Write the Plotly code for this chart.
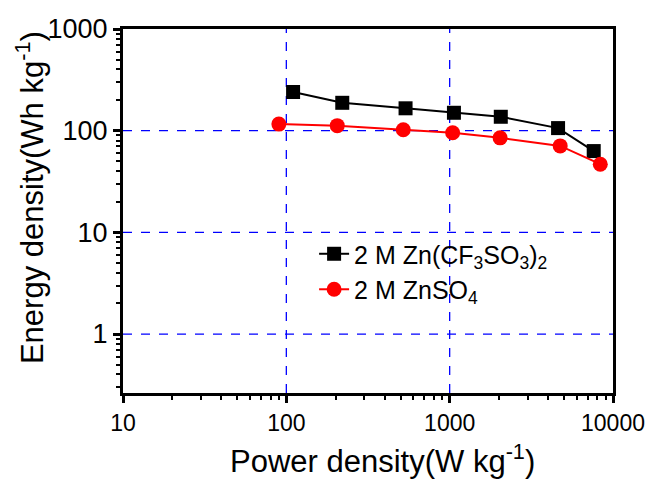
import plotly.graph_objects as go

# Ragone data: power density (W/kg) vs energy density (Wh/kg)
power_cf3so3 = [110, 220, 537, 1062, 2056, 4610, 7620]
energy_cf3so3 = [240, 188, 166, 150, 137, 106, 63]

power_znso4 = [90, 205, 520, 1043, 2036, 4750, 8360]
energy_znso4 = [116, 112, 102, 95.5, 85, 70.8, 46.8]

name_cf3so3 = "2 M Zn(CF<sub>3</sub>SO<sub>3</sub>)<sub>2</sub>"
name_znso4 = "2 M ZnSO<sub>4</sub>"

x_ticks = [10, 100, 1000, 10000]
y_ticks = [1, 10, 100, 1000]
x_grid = [100, 1000]
y_grid = [1, 10, 100]

FONT = "Liberation Sans, Arial, sans-serif"
GRID = "#0000FF"


def minor_vals(decades):
    return [m * 10 ** d for d in decades for m in range(2, 10)]


fig = go.Figure()
fig.add_trace(go.Scatter(
    x=power_cf3so3, y=energy_cf3so3, name=name_cf3so3,
    mode="lines+markers",
    line=dict(color="black", width=2),
    marker=dict(symbol="square", size=14, color="black"),
))
fig.add_trace(go.Scatter(
    x=power_znso4, y=energy_znso4, name=name_znso4,
    mode="lines+markers",
    line=dict(color="red", width=2),
    marker=dict(symbol="circle", size=15, color="red"),
))

# dashed blue grid at the interior decades
for gx in x_grid:
    fig.add_shape(type="line", xref="x", yref="paper", x0=gx, x1=gx,
                  y0=0, y1=1, layer="below",
                  line=dict(color=GRID, width=1.3, dash="dash"))
for gy in y_grid:
    fig.add_shape(type="line", xref="paper", yref="y", x0=0, x1=1,
                  y0=gy, y1=gy, layer="below",
                  line=dict(color=GRID, width=1.3, dash="dash"))


def log_axis(rng, vals, minors, label_size):
    return dict(
        type="log", range=rng,
        tickvals=vals, ticktext=[str(v) for v in vals],
        showline=True, linecolor="black", linewidth=3, mirror=True,
        ticks="outside", ticklen=7, tickwidth=3, tickcolor="black",
        showgrid=False, zeroline=False,
        tickfont=dict(family=FONT, size=label_size, color="black"),
        minor=dict(tickvals=minors, ticks="outside", ticklen=4, tickwidth=2,
                   tickcolor="black", showgrid=False),
    )


fig.update_layout(
    width=657, height=479,
    margin=dict(l=123, r=44, t=29, b=86),
    paper_bgcolor="white", plot_bgcolor="white",
    font=dict(family=FONT, color="black"),
    xaxis=log_axis([1, 4.0], x_ticks, minor_vals([1, 2, 3]), 23),
    yaxis=log_axis([-0.58, 3.0], y_ticks, minor_vals([-1, 0, 1, 2]), 27),
    showlegend=True,
    legend=dict(
        x=0.39, y=0.445, xanchor="left", yanchor="top",
        bgcolor="rgba(0,0,0,0)", borderwidth=0,
        font=dict(family=FONT, size=25, color="black"),
        tracegroupgap=0,
    ),
    annotations=[
        dict(text="Power density(W kg<sup>-1</sup>)",
             xref="paper", yref="paper", x=0.529, y=-0.18,
             xanchor="center", yanchor="middle", showarrow=False,
             font=dict(family=FONT, size=31, color="black")),
        dict(text="Energy density(Wh kg<sup>-1</sup>)",
             xref="paper", yref="paper", x=-0.19, y=0.538,
             xanchor="center", yanchor="middle", showarrow=False,
             textangle=-90,
             font=dict(family=FONT, size=31, color="black")),
    ],
)

fig.write_html("out.html")
